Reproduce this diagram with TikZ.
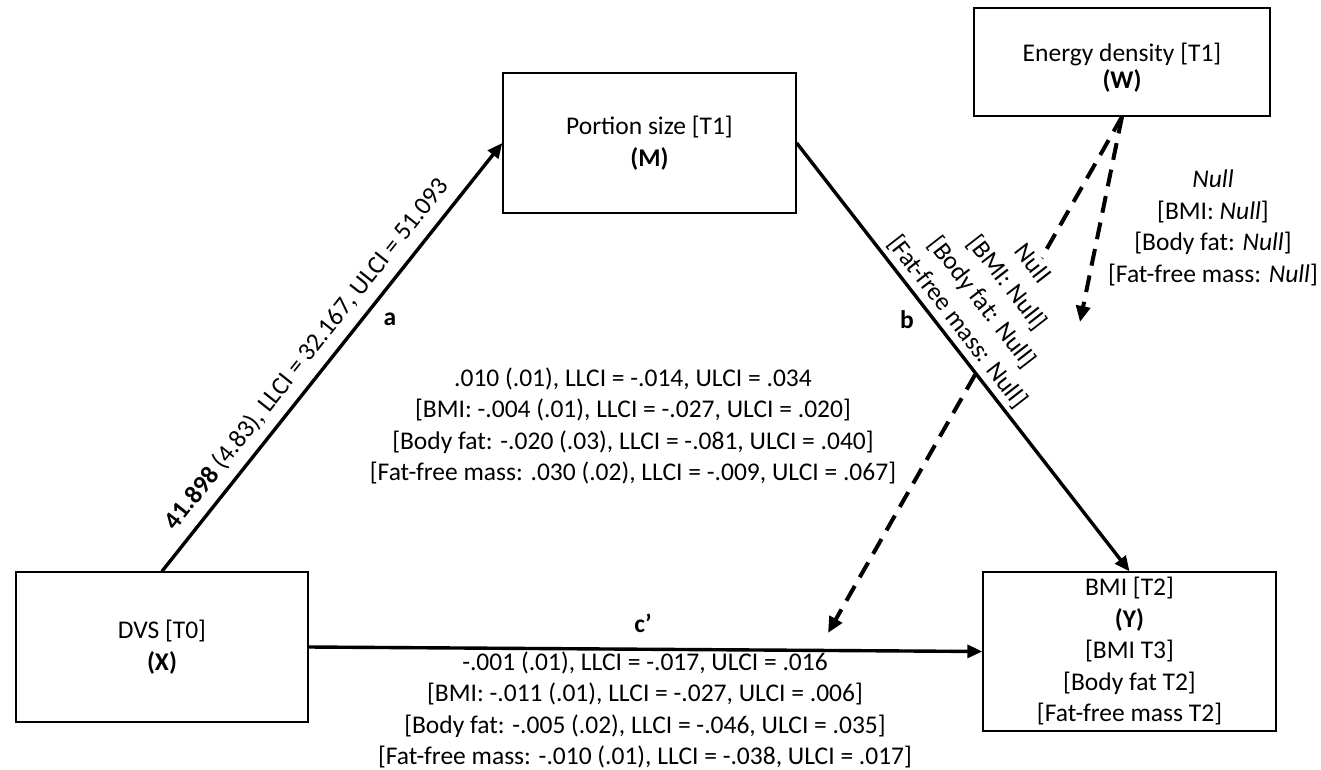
\documentclass[tikz,border=0pt]{standalone}
\usepackage{fontspec}
\setmainfont{Carlito}
\usetikzlibrary{arrows.meta}
\begin{document}
\begin{tikzpicture}[x=1pt,y=-1pt,
  every node/.style={font=\fontsize{25.5}{31.5}\selectfont, text=black},
  varbox/.style={draw, line width=1.4pt, align=center, inner sep=0pt},
  mainpath/.style={line width=3.4pt, -{Triangle[length=15pt,width=13pt]}},
  modpath/.style={line width=4pt, dash pattern=on 17pt off 10pt, -{Triangle[length=16pt,width=14pt]}},
  txt/.style={align=center, inner sep=1pt},
  lab/.style={font=\fontsize{25.5}{31.5}\selectfont\bfseries, inner sep=0pt}]
\useasboundingbox (0,0) rectangle (1321,770);

% boxes
\node[varbox, minimum width=292pt, minimum height=150pt] (X) at (162,647) {DVS [T0]\\\textbf{(X)}};
\node[varbox, minimum width=293pt, minimum height=140pt] (M) at (649.5,143) {Portion size [T1]\\\textbf{(M)}};
\node[varbox, minimum width=296pt, minimum height=108pt] (W) at (1122,62) {};
\node[txt, font=\fontsize{25.5}{27}\selectfont] (wtext) at ([yshift=-6pt]W.center) {Energy density [T1]\\\textbf{(W)}};
\node[varbox, minimum width=293pt, minimum height=159pt] (Y) at (1129.5,651.5)
  {BMI [T2]\\\textbf{(Y)}\\{}[BMI T3]\\{}[Body fat T2]\\{}[Fat-free mass T2]};

% moderation: W -> c' path (behind tilted text)
\coordinate (cpt) at (828,633);
\draw[modpath] (W.south) -- (cpt);

% tilted text next to b
\path (M.east) -- (Y.north) node[pos=0.442, sloped, above=5pt, fill=white, txt] (nulltilt)
  {Null\\{}[BMI: Null]\\{}[Body fat: Null]\\{}[Fat-free mass: Null]};

% moderation: W -> b path
\coordinate (bpt) at (1080,322);
\draw[modpath] (W.south) -- (bpt);

% main paths
\draw[mainpath] (X.north) -- (M.west)
  node[pos=0.476, sloped, above=8pt, inner sep=1pt] (alab) {\textbf{41.898} (4.83), LLCI = 32.167, ULCI = 51.093};
\draw[mainpath] (M.east) -- (Y.north);
\draw[mainpath] (X.east) -- (Y.west);

% path labels
\node[lab] (la) at (390,319) {a};
\node[lab] (lb) at (907,320) {b};
\node[lab] (lc) at (643,623) {c’};

% coefficient texts
\node[txt] (ind) at (633,426) {.010 (.01), LLCI = -.014, ULCI = .034\\
  {}[BMI: -.004 (.01), LLCI = -.027, ULCI = .020]\\
  {}[Body fat: -.020 (.03), LLCI = -.081, ULCI = .040]\\
  {}[Fat-free mass: .030 (.02), LLCI = -.009, ULCI = .067]};
\node[txt] (dir) at (645,710) {-.001 (.01), LLCI = -.017, ULCI = .016\\
  {}[BMI: -.011 (.01), LLCI = -.027, ULCI = .006]\\
  {}[Body fat: -.005 (.02), LLCI = -.046, ULCI = .035]\\
  {}[Fat-free mass: -.010 (.01), LLCI = -.038, ULCI = .017]};
\node[txt] (wnull) at (1213,228) {\textit{Null}\\
  {}[BMI: \textit{Null}]\\
  {}[Body fat: \textit{Null}]\\
  {}[Fat-free mass: \textit{Null}]};
\end{tikzpicture}
\end{document}
